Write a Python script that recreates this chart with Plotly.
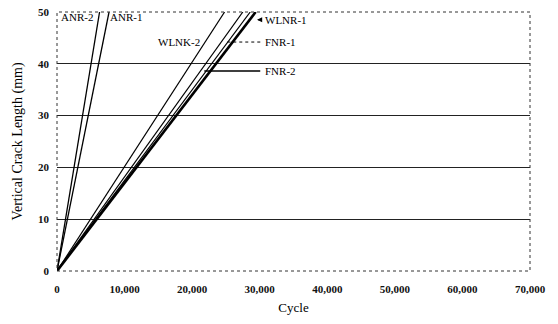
import plotly.graph_objects as go

# Each specimen: crack length grows linearly from 0; value = cycles at 50 mm
series_names = ["ANR-2", "ANR-1", "WLNK-2", "FNR-1", "FNR-2", "WLNR-1"]
cycles_start = [0, 0, 0, 0, 0, 0]
cycles_end = [6300, 7700, 24800, 27500, 28600, 29400]
length_start = [0, 0, 0, 0, 0, 0]
length_end = [50, 50, 50, 50, 50, 50]
line_widths = [1.3, 1.3, 1.2, 1.2, 1.2, 2.6]

x_ticks = [0, 10000, 20000, 30000, 40000, 50000, 60000, 70000]
y_ticks = [0, 10, 20, 30, 40, 50]

fig = go.Figure()
for name, x0, x1, y0, y1, w in zip(series_names, cycles_start, cycles_end,
                                   length_start, length_end, line_widths):
    fig.add_trace(go.Scatter(x=[x0, x1], y=[y0, y1], mode="lines", name=name,
                             line=dict(color="black", width=w), showlegend=False))

serif = "Liberation Serif"
tick_font = dict(family=serif, size=11, color="#111", weight="bold")
fig.update_layout(
    width=558, height=324,
    margin=dict(l=57, r=28, t=12, b=53),
    paper_bgcolor="white", plot_bgcolor="white",
    font=dict(family=serif, color="black"),
    xaxis=dict(range=[0, 70000], tickvals=x_ticks, tickformat=",",
               showgrid=False, zeroline=False, ticks="", automargin=False,
               ticklabelstandoff=10, tickfont=tick_font,
               title=dict(text="Cycle", font=dict(family=serif, size=13), standoff=8)),
    yaxis=dict(range=[0, 50], tickvals=y_ticks, showgrid=True,
               gridcolor="#222", gridwidth=1, zeroline=False, ticks="",
               automargin=False, ticklabelstandoff=7, tickfont=tick_font,
               title=dict(text="Vertical Crack Length (mm)",
                          font=dict(family=serif, size=14), standoff=12)),
)

# dotted plot border
fig.add_shape(type="rect", xref="paper", yref="paper", x0=0, y0=0, x1=1, y1=1,
              line=dict(color="#333", width=1, dash="dot"), layer="above")

lab_font = dict(family=serif, size=11, color="black")
fig.add_annotation(x=300, y=49.0, text="ANR-2", showarrow=False, xanchor="left",
                   font=lab_font)
fig.add_annotation(x=7600, y=49.0, text="ANR-1", showarrow=False, xanchor="left",
                   font=lab_font)
fig.add_annotation(x=21500, y=44.2, text="WLNK-2", showarrow=False, xanchor="right",
                   font=lab_font)
fig.add_annotation(x=30500, y=48.5, text="WLNR-1", showarrow=False, xanchor="left",
                   font=lab_font)
fig.add_annotation(x=30500, y=44.2, text="FNR-1", showarrow=False, xanchor="left",
                   font=lab_font)
fig.add_annotation(x=30500, y=38.6, text="FNR-2", showarrow=False, xanchor="left",
                   font=lab_font)

# leaders
fig.add_annotation(x=29600, y=48.5, ax=30400, ay=48.5, axref="x", ayref="y",
                   text="", showarrow=True, arrowhead=2, arrowsize=0.8,
                   arrowwidth=1.3, arrowcolor="black")
fig.add_shape(type="line", x0=25200, y0=44.2, x1=30300, y1=44.2,
              line=dict(color="black", width=1, dash="dot"))
fig.add_annotation(x=21800, y=38.6, ax=30300, ay=38.6, axref="x", ayref="y",
                   text="", showarrow=True, arrowhead=0, arrowwidth=1.6,
                   arrowcolor="black")

fig.write_html("out.html", config={"displayModeBar": False},
               post_script="document.body.style.margin='0';"
                           "document.body.style.overflow='hidden';")
